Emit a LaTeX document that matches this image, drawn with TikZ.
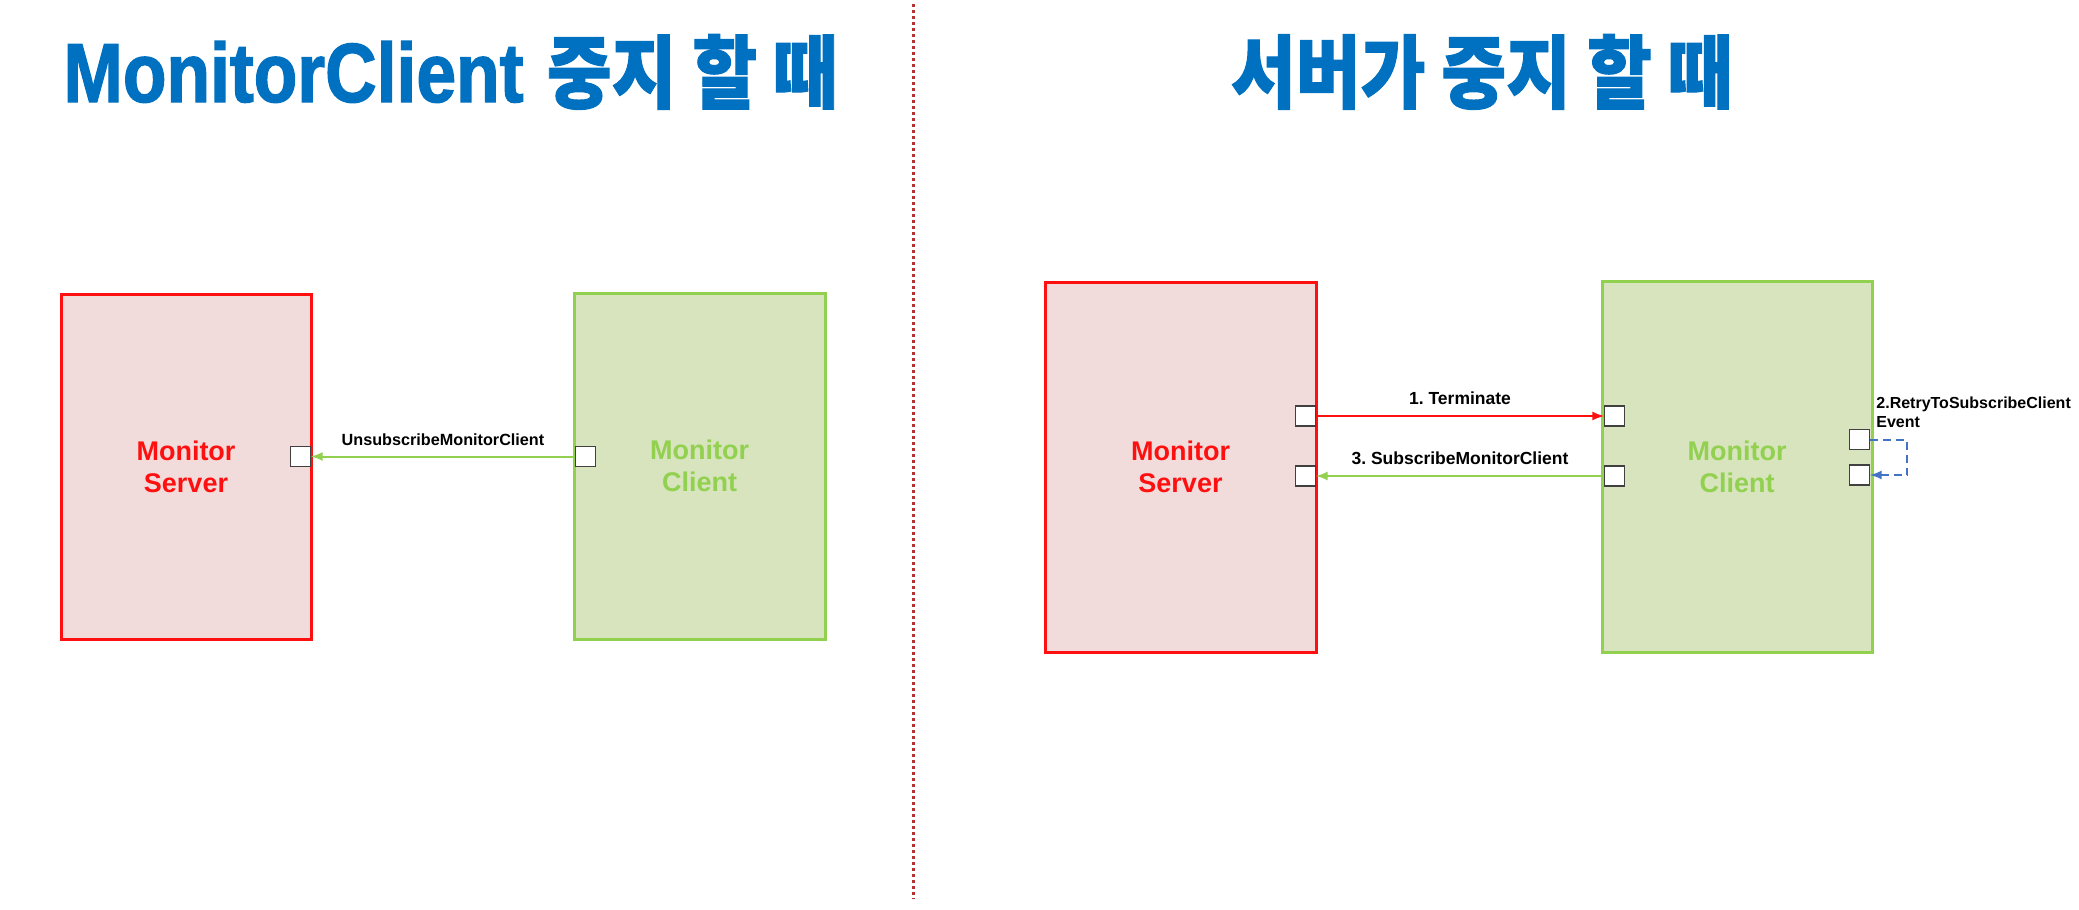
\documentclass[tikz,border=0pt]{standalone}
\usepackage{fontspec}
\setmainfont{Liberation Sans}
\newfontfamily\krfont{Noto Sans CJK KR}[FakeStretch=0.88, FakeBold=1.2]
\newfontfamily\titlelatin{Liberation Sans}[FakeStretch=0.85, FakeBold=1.5]
\usetikzlibrary{arrows, positioning}
\frenchspacing

\definecolor{titleblue}{RGB}{0,112,192}
\definecolor{srvred}{RGB}{255,16,16}
\definecolor{srvfill}{RGB}{242,220,219}
\definecolor{cligreen}{RGB}{146,208,80}
\definecolor{clifill}{RGB}{215,228,189}
\definecolor{loopblue}{RGB}{68,114,196}
\definecolor{divred}{RGB}{178,50,50}

\tikzset{
    srvbox/.style={draw=srvred, fill=srvfill, line width=1.5pt, text=srvred, align=center, font=\bfseries\fontsize{13.5}{16}\selectfont},
    clibox/.style={draw=cligreen, fill=clifill, line width=1.5pt, text=cligreen, align=center, font=\bfseries\fontsize{13.5}{16}\selectfont},
    port/.style={draw=black!75, fill=white, line width=0.7pt, minimum size=10pt, inner sep=0pt},
    msg/.style={text=black, inner sep=1pt, font=\bfseries\fontsize{8.75}{10}\selectfont},
    headline/.style={text=titleblue, inner sep=0pt, font=\fontsize{42}{50}\selectfont},
}
\newcommand{\krtitle}[1]{{\krfont\bfseries\fontsize{40}{50}\selectfont #1}}

\begin{document}
\begin{tikzpicture}[x=0.5pt, y=-0.5pt]
    \useasboundingbox (0,0) rectangle (2079,910);

    % titles
    \node[headline, anchor=base west] (titleA) at (63,102) {{\titlelatin\bfseries MonitorClient} \krtitle{중지 할 때}};
    \node[headline, anchor=base] (titleB) at (1482,102) {\krtitle{서버가 중지 할 때}};

    % divider
    \draw[divred, line width=1.5pt, dash pattern=on 1.5pt off 1.5pt] (913,4) -- (913,899);

    % left: client stops
    \node[srvbox, minimum width=125pt, minimum height=172.5pt] (srvA) at (186,466.5) {Monitor\\Server};
    \node[clibox, minimum width=125.5pt, minimum height=173pt] (cliA) at (699.5,466) {Monitor\\Client};
    \node[port, anchor=east] (srvAin) at (311,456.5) {};
    \node[port, anchor=west] (cliAout) at (575,456.5) {};

    \draw[-latex, cligreen, line width=1pt] (cliAout) -- node[msg, above=4pt, font=\bfseries\fontsize{8.1}{10}\selectfont] (lblUnsub) {UnsubscribeMonitorClient} (srvAin);

    % right: server stops
    \node[srvbox, minimum width=135.5pt, minimum height=185pt] (srvB) at (1180.5,467) {Monitor\\Server};
    \node[clibox, minimum width=135pt, minimum height=185.5pt] (cliB) at (1737,466.5) {Monitor\\Client};
    \node[port, anchor=east] (srvBt) at (1316,416) {};
    \node[port, anchor=east] (srvBs) at (1316,476) {};
    \node[port, anchor=west] (cliBt) at (1604,416) {};
    \node[port, anchor=west] (cliBs) at (1604,476) {};
    \node[port, anchor=east] (cliBr1) at (1870,439.5) {};
    \node[port, anchor=east] (cliBr2) at (1870,475) {};
    \coordinate (loopR) at (1907,439.5);

    \draw[-latex, srvred, line width=1pt] (srvBt) -- node[msg, above=4pt] (lblTerm) {1. Terminate} (cliBt);
    \draw[-latex, cligreen, line width=1pt] (cliBs) -- node[msg, above=4pt] (lblSub) {3. SubscribeMonitorClient} (srvBs);
    \draw[-latex, loopblue, line width=1pt, dash pattern=on 4pt off 2.5pt] (cliBr1) -- (loopR) |- (cliBr2);
    \node[msg, anchor=north west, align=left, inner sep=0pt, font=\bfseries\fontsize{8}{9.5}\selectfont] (lblRetry) at (1876,397) {2.RetryToSubscribeClient\\Event};
\end{tikzpicture}
\end{document}
